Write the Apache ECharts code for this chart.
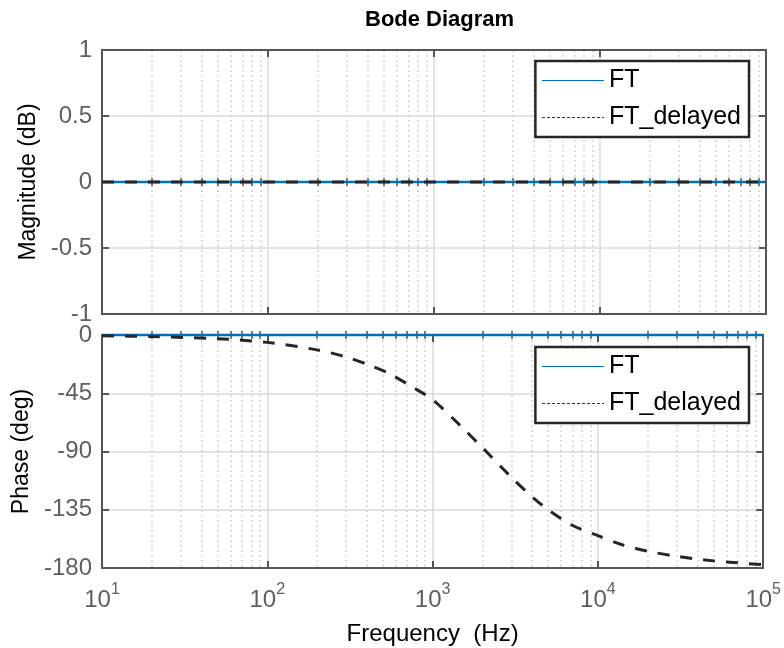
<!DOCTYPE html>
<html>
<head>
<meta charset="utf-8">
<script src="https://cdn.jsdelivr.net/npm/echarts@6/dist/echarts.min.js"></script>
<style>
  html, body { margin: 0; padding: 0; background: #fff; }
  #chart { width: 784px; height: 648px; }
</style>
</head>
<body>
<div id="chart"></div>
<script>
// frequency axis, Hz
var decades = [10, 100, 1000, 10000, 100000];
var magTicks = [-1, -0.5, 0, 0.5, 1];
var phaseTicks = [-180, -135, -90, -45, 0];

// magnitude (dB)
var magFreq = [10, 100000];
var magFT = [0, 0];
var magDelayed = [0, 0];

// phase (deg)
var ftFreq = [10, 100000];
var ftPhase = [0, 0];
var delayedFreq = [10, 20, 50, 100, 200, 300, 430, 550, 750, 1000, 1500, 2000, 3000, 4000, 5000, 7000, 10000, 14000, 20000, 30000, 50000, 70000, 100000];
var delayedPhase = [-0.6, -1.2, -2.9, -5.7, -11.5, -17, -24, -30, -40, -50, -71, -87, -110, -125, -135, -147, -155, -162, -167, -171, -174.5, -176, -177.5];

// minor log grid positions (2..9 in each decade)
var minorFreq = [];
decades.slice(0, -1).forEach(function (d) {
  for (var k = 2; k <= 9; k++) minorFreq.push(d * k);
});

var boxColor = '#555';
var labelColor = '#5f5f5f';
var font = 'Liberation Sans, Arial, sans-serif';

function pairs(xs, ys) {
  return xs.map(function (x, i) { return [x, ys[i]]; });
}

function xAxisDef(grid, position, opts) {
  var ax = {
    type: 'log', logBase: 10, min: 10, max: 100000,
    gridIndex: grid, position: position,
    axisLine: { show: false },
    axisTick: { show: false },
    axisLabel: { show: false },
    splitLine: { show: false }
  };
  return Object.assign(ax, opts || {});
}

function majorX(grid, position, withGrid) {
  return xAxisDef(grid, position, {
    axisLine: { show: true, onZero: false, lineStyle: { color: boxColor, width: 2 } },
    axisTick: { show: true, inside: true, length: 7, lineStyle: { color: boxColor, width: 2 } },
    splitLine: withGrid ? { show: true, showMinLine: false, showMaxLine: false, lineStyle: { color: '#dadada', width: 1.5 } } : { show: false }
  });
}

function minorX(grid, position, withGrid) {
  return xAxisDef(grid, position, {
    axisTick: { show: true, inside: true, length: 4, customValues: minorFreq, lineStyle: { color: boxColor, width: 1.5 } },
    splitLine: withGrid ? { show: true, lineStyle: { color: '#d2d2d2', width: 1.5, type: [2, 3] } } : { show: false }
  });
}

function yAxisDef(grid, position, min, max, interval, name, gap) {
  var left = position === 'left';
  return {
    type: 'value', gridIndex: grid, position: position,
    min: min, max: max, interval: interval,
    name: left ? name : '', nameLocation: 'middle', nameGap: gap,
    nameTextStyle: { color: '#000', fontSize: 23, fontFamily: font },
    axisLine: { show: true, onZero: false, lineStyle: { color: boxColor, width: 2 } },
    axisTick: { show: true, inside: true, length: 7, lineStyle: { color: boxColor, width: 2 } },
    axisLabel: { show: left, color: labelColor, fontSize: 24, fontFamily: font, margin: 10 },
    splitLine: left ? { show: true, showMinLine: false, showMaxLine: false, lineStyle: { color: '#dadada', width: 1.5 } } : { show: false }
  };
}

function legendDef(top) {
  return {
    orient: 'vertical', right: 35, top: top,
    data: [
      { name: 'FT', itemStyle: { opacity: 0 }, lineStyle: { color: '#0072BD', width: 1.2, type: 'solid' } },
      { name: 'FT_delayed', itemStyle: { opacity: 0 }, lineStyle: { color: '#333', width: 1.2, type: [3, 2] } }
    ],
    itemWidth: 62, itemHeight: 24, itemGap: 12,
    padding: [7, 8, 7, 6],
    backgroundColor: '#fff', borderColor: '#262626', borderWidth: 2.5, borderRadius: 0,
    textStyle: { color: '#000', fontSize: 25, fontFamily: font }
  };
}

var blueLine = { color: '#0072BD', width: 2.5 };
var dashLine = { color: '#262626', width: 3, type: [12, 11] };

var option = {
  animation: false,
  backgroundColor: '#fff',
  title: {
    text: 'Bode Diagram', left: 360, top: 4,
    textStyle: { color: '#000', fontSize: 22, fontWeight: 'bold', fontFamily: font }
  },
  legend: [legendDef(61), legendDef(347)],
  grid: [
    { left: 102, right: 18, top: 50, height: 264 },
    { left: 102, right: 18, top: 335, height: 233 }
  ],
  xAxis: [
    majorX(0, 'bottom', true),
    majorX(0, 'top', false),
    minorX(0, 'bottom', true),
    minorX(0, 'top', false),
    Object.assign(majorX(1, 'bottom', true), {
      name: 'Frequency  (Hz)', nameLocation: 'middle', nameGap: 54,
      nameTextStyle: { color: '#000', fontSize: 24, fontFamily: font },
      axisLabel: {
        show: true, margin: 14, showMinLabel: true, showMaxLabel: true,
        formatter: function (v) {
          return '{b|10}{s|' + Math.round(Math.log10(v)) + '}';
        },
        rich: {
          b: { color: labelColor, fontSize: 24, fontFamily: font, verticalAlign: 'bottom', lineHeight: 30 },
          s: { color: labelColor, fontSize: 16, fontFamily: font, verticalAlign: 'top', lineHeight: 30 }
        }
      }
    }),
    majorX(1, 'top', false),
    minorX(1, 'bottom', true),
    minorX(1, 'top', false)
  ],
  yAxis: [
    yAxisDef(0, 'left', magTicks[0], magTicks[magTicks.length - 1], 0.5, 'Magnitude (dB)', 55),
    yAxisDef(0, 'right', magTicks[0], magTicks[magTicks.length - 1], 0.5, '', 0),
    yAxisDef(1, 'left', phaseTicks[0], phaseTicks[phaseTicks.length - 1], 45, 'Phase (deg)', 63),
    yAxisDef(1, 'right', phaseTicks[0], phaseTicks[phaseTicks.length - 1], 45, '', 0)
  ],
  series: [
    { name: 'FT', type: 'line', xAxisIndex: 0, yAxisIndex: 0, symbol: 'none', data: pairs(magFreq, magFT), lineStyle: blueLine, color: '#0072BD', z: 3 },
    { name: 'FT_delayed', type: 'line', xAxisIndex: 0, yAxisIndex: 0, symbol: 'none', data: pairs(magFreq, magDelayed), lineStyle: dashLine, color: '#262626', z: 4 },
    { name: 'FT', type: 'line', xAxisIndex: 4, yAxisIndex: 2, symbol: 'none', clip: false, data: pairs(ftFreq, ftPhase), lineStyle: blueLine, color: '#0072BD', z: 3 },
    { name: 'FT_delayed', type: 'line', xAxisIndex: 4, yAxisIndex: 2, symbol: 'none', smooth: 0.3, data: pairs(delayedFreq, delayedPhase), lineStyle: dashLine, color: '#262626', z: 4 }
  ]
};

var chart = echarts.init(document.getElementById('chart'));
chart.setOption(option);
</script>
</body>
</html>
